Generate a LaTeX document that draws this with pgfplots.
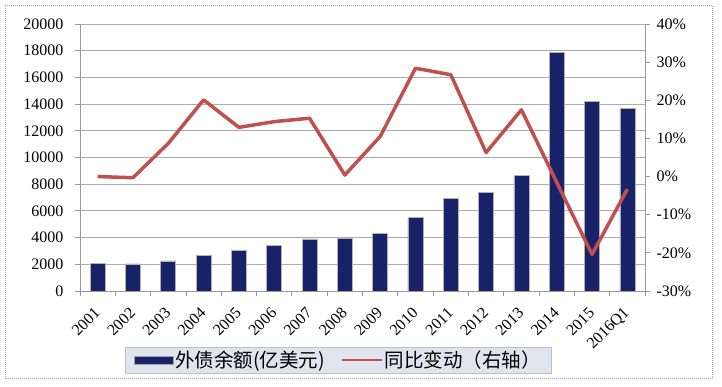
\documentclass[border=0pt]{standalone}
\usepackage{pgfplots}
\pgfplotsset{compat=1.18}
\usepackage{fontspec}
\setmainfont{Liberation Serif}
\newfontfamily\cjk{Noto Sans CJK SC}
\definecolor{barnavy}{RGB}{24,34,104}
\definecolor{linered}{RGB}{192,80,77}
\definecolor{legbg}{RGB}{222,229,238}
\pgfplotsset{
  mybarlegend/.style={legend image code/.code={\draw[fill=barnavy,draw=gray!70] (0pt,-4pt) rectangle (39pt,4pt);}},
  mylinelegend/.style={legend image code/.code={\draw[linered, line width=2pt] (0pt,0pt) -- (40pt,0pt);}}
}
\begin{document}
\begin{tikzpicture}[x=1pt,y=1pt]
\begin{axis}[
  scale only axis, width=565pt, height=267pt, at={(0,0)}, anchor=south west,
  xmin=-0.5, xmax=15.5, ymin=0, ymax=20000, ytick={0,2000,...,20000},
  axis x line=bottom, axis y line=left, axis line style={-, gray!80, line width=0.8pt},
  ymajorgrids, grid style={gray!65, line width=0.8pt},
  tick align=outside, major tick length=5pt, tick style={gray!80, line width=0.8pt},
  xtick={-0.5,0.5,...,15.5}, xticklabels={},
  extra x ticks={0,1,2,3,4,5,6,7,8,9,10,11,12,13,14,15},
  extra x tick labels={2001,2002,2003,2004,2005,2006,2007,2008,2009,2010,2011,2012,2013,2014,2015,2016Q1},
  extra x tick style={major tick length=0pt, grid=none},
  xticklabel style={yshift=-17pt, xshift=2pt, rotate=45, anchor=east, font=\fontsize{16}{16}\selectfont},
  yticklabel style={font=\fontsize{16}{16}\selectfont, xshift=-8pt},
  /pgf/number format/assume math mode=true,
  /pgf/number format/set thousands separator={},
  scaled y ticks=false,
  ybar, bar width=15pt,
  legend columns=2,
  legend style={at={(0.457,-0.258)}, anchor=center, fill=legbg, draw=gray!50,
    font=\cjk\fontsize{19.5}{19.5}\selectfont, inner ysep=2pt, inner xsep=8pt,
    /tikz/every even column/.append style={column sep=14pt}},
]
\addplot[fill=barnavy, draw=gray!60, line width=0.6pt, mybarlegend] coordinates {
(0,2060) (1,2030) (2,2250) (3,2640) (4,3050) (5,3430) (6,3900) (7,3910)
(8,4310) (9,5490) (10,6960) (11,7370) (12,8630) (13,17900) (14,14220) (15,13650)};
\addlegendentry{外债余额(亿美元)}
\addlegendimage{mylinelegend}
\addlegendentry{同比变动（右轴）}
\end{axis}
\begin{axis}[
  scale only axis, width=565pt, height=267pt, at={(0,0)}, anchor=south west,
  xmin=-0.5, xmax=15.5, ymin=-30, ymax=40, ytick={-30,-20,...,40},
  axis y line=right, axis x line=none, axis line style={-, gray!80, line width=0.8pt},
  tick align=outside, major tick length=5pt, tick style={gray!80, line width=0.8pt},
  yticklabel={\pgfmathprintnumber{\tick}\%},
  yticklabel style={font=\fontsize{16}{16}\selectfont, xshift=3pt},
  /pgf/number format/assume math mode=true,
]
\addplot[linered, line width=3.5pt, line join=round, mark=none] coordinates {
(0,0.0) (1,-0.3) (2,8.7) (3,20.1) (4,12.9) (5,14.4) (6,15.3) (7,0.4)
(8,10.5) (9,28.4) (10,26.7) (11,6.3) (12,17.5) (13,-1.5) (14,-20.4) (15,-3.3)};
\end{axis}
\draw[gray!70, densely dotted, line width=1pt] (-74,-88) rectangle (632.7,285);
\pgfresetboundingbox
\useasboundingbox (-80,-96) rectangle (642,291);
\end{tikzpicture}
\end{document}
